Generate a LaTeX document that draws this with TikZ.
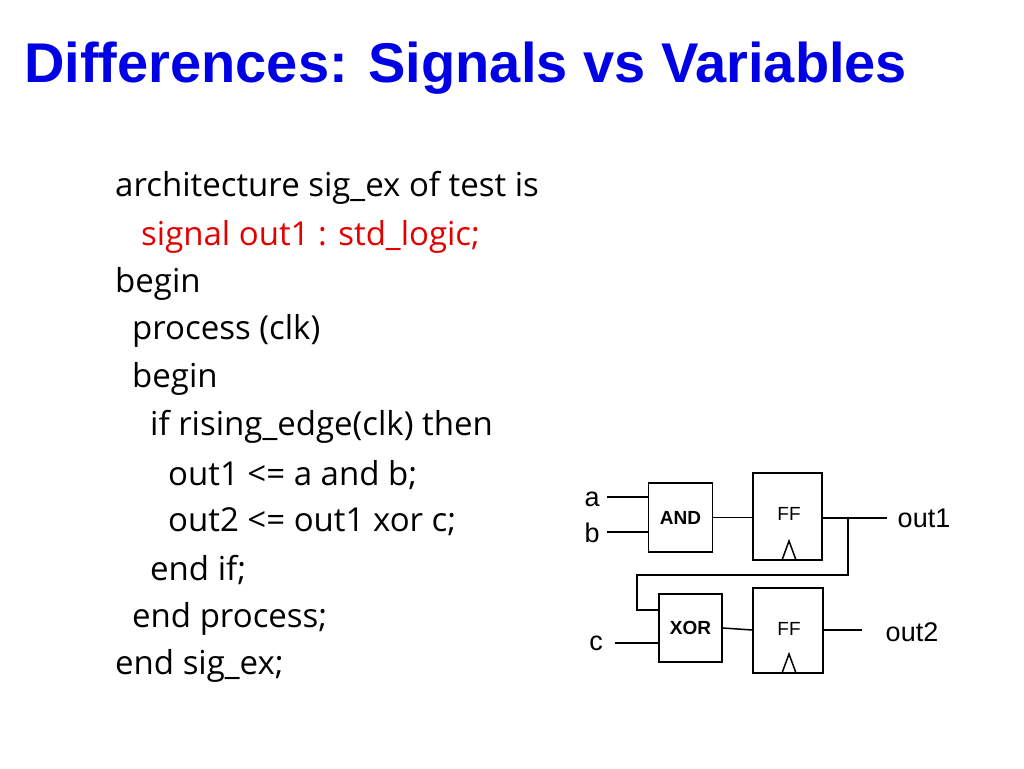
\documentclass[tikz,border=0pt]{standalone}
\usepackage{fontspec}
\setmainfont{Liberation Sans}
\newfontfamily\codefont{Open Sans}
\begin{document}
\begin{tikzpicture}[x=1pt, y=-1pt,
    code/.style={anchor=west, inner sep=0pt, font=\codefont\fontsize{33}{36}\selectfont},
    gate/.style={draw, line width=1.5pt, minimum width=64pt, minimum height=69pt, font=\bfseries\fontsize{19}{21}\selectfont},
    ff/.style={draw, line width=1.5pt, minimum width=69pt, minimum height=87pt},
    lbl/.style={font=\fontsize{27}{29}\selectfont},
    wire/.style={line width=1.5pt}]
  \useasboundingbox (0,0) rectangle (1024,768);
  \node[anchor=west, inner sep=0pt, text=blue!90!black, font=\bfseries\fontsize{56}{60}\selectfont] (title) at (24,68) {Differences: Signals vs Variables};
  % code
  \node[code] (l1) at (115,188) {architecture sig\_ex of test is};
  \node[code, text=red!90!black] (l2) at (141,237) {signal out1 : std\_logic;};
  \node[code] (l3) at (115,284) {begin};
  \node[code] (l4) at (132,331) {process (clk)};
  \node[code] (l5) at (132,379) {begin};
  \node[code] (l6) at (150,427) {if rising\_edge(clk) then};
  \node[code] (l7) at (168,475) {out1 <= a and b;};
  \node[code] (l8) at (168,522) {out2 <= out1 xor c;};
  \node[code] (l9) at (150,570) {end if;};
  \node[code] (l10) at (132,619) {end process;};
  \node[code] (l11) at (115,666) {end sig\_ex;};
  % circuit
  \node[gate] (and) at (680.5,517.5) {AND};
  \node[gate, minimum width=63pt, minimum height=68pt] (xor) at (690.5,628) {XOR};
  \node[ff] (ff1) at (787.5,516.5) {};
  \node[ff, minimum width=70pt, minimum height=85pt] (ff2) at (788,630.5) {};
  \node[font=\fontsize{19}{21}\selectfont] (ffa) at (789,514) {FF};
  \node[font=\fontsize{19}{21}\selectfont] (ffb) at (789,629) {FF};
  \draw[wire] (782,560) -- (789,541) -- (796,560);
  \draw[wire] (782,673) -- (789,654) -- (796,673);
  \node[lbl] (a) at (592,499) {a};
  \node[lbl] (b) at (592,533) {b};
  \node[lbl] (c) at (596,643) {c};
  \node[lbl] (out1) at (924,518) {out1};
  \node[lbl] (out2) at (912,632) {out2};
  \coordinate (ja) at (648,497);
  \coordinate (jb) at (648,532);
  \coordinate (jc) at (659,643);
  \coordinate (j1) at (848,518);
  \coordinate (jx) at (659,610);
  \draw[wire] (607,497) -- (ja);
  \draw[wire] (607,532) -- (jb);
  \draw[wire] (615,643) -- (jc);
  \draw[wire] (and.east) -- (ff1.west |- and.east);
  \draw[wire] (ff1.east |- j1) -- (887,518);
  \draw[wire] (j1) -- (848,575) -- (637,575) -- (637,610) -- (jx);
  \draw[wire] (xor.east) -- (ff2.west |- 0,630);
  \draw[wire] (ff2.east |- 0,630) -- (862,630);
\end{tikzpicture}
\end{document}
